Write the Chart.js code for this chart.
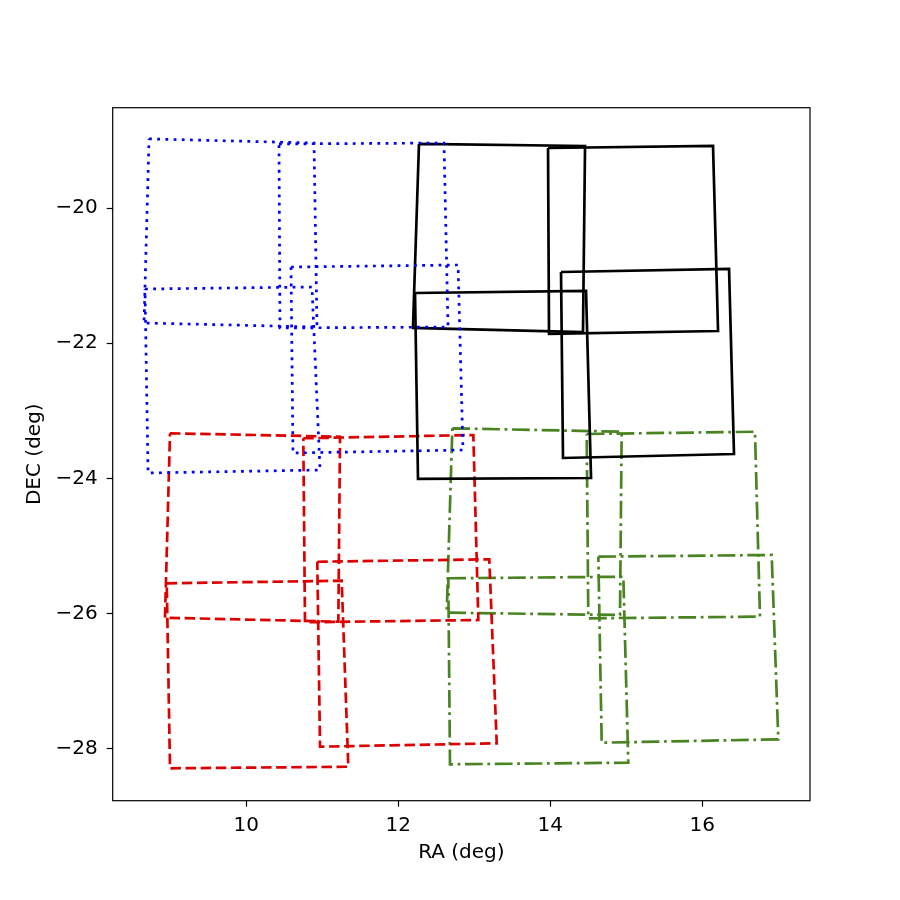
<!DOCTYPE html>
<html>
<head>
<meta charset="utf-8">
<title>Pointings</title>
<script src="https://cdn.jsdelivr.net/npm/chart.js@4/dist/chart.umd.min.js"></script>
<style>
  html, body { margin: 0; padding: 0; background: #fff; }
  #wrap { width: 900px; height: 900px; }
</style>
</head>
<body>
<div id="wrap"><canvas id="footprints" width="900" height="900"></canvas></div>
<script>
// corners of each footprint (RA, DEC in deg)
// each inner list = 4 corners, in order TL, TR, BR, BL
var blueRa = [
  [8.720, 10.891, 10.930, 8.654],
  [10.430, 12.601, 12.654, 10.443],
  [8.667, 10.864, 10.970, 8.707],
  [10.588, 12.786, 12.851, 10.614]
];
var blueDec = [
  [-18.972, -19.033, -21.759, -21.699],
  [-19.047, -19.033, -21.759, -21.773],
  [-21.196, -21.166, -23.877, -23.921],
  [-20.870, -20.840, -23.581, -23.625]
];

var blackRa = [
  [12.272, 14.457, 14.430, 12.193],
  [13.970, 16.141, 16.207, 13.983],
  [12.220, 14.470, 14.536, 12.259],
  [14.141, 16.352, 16.417, 14.167]
];
var blackDec = [
  [-19.047, -19.077, -21.833, -21.773],
  [-19.107, -19.077, -21.818, -21.862],
  [-21.255, -21.225, -23.996, -24.010],
  [-20.944, -20.899, -23.640, -23.699]
];

var redRa = [
  [8.996, 11.233, 11.211, 8.930],
  [10.750, 12.987, 13.053, 10.772],
  [8.953, 11.255, 11.342, 8.996],
  [10.934, 13.197, 13.295, 10.970]
];
var redDec = [
  [-23.333, -23.384, -26.124, -26.065],
  [-23.407, -23.359, -26.099, -26.133],
  [-25.556, -25.517, -28.273, -28.296],
  [-25.236, -25.200, -27.926, -27.976]
];

var greenRa = [
  [12.711, 14.939, 14.917, 12.637],
  [14.479, 16.693, 16.759, 14.500],
  [12.658, 14.961, 15.026, 12.680],
  [14.632, 16.913, 17.000, 14.676]
];
var greenDec = [
  [-23.259, -23.310, -26.025, -25.991],
  [-23.344, -23.310, -26.050, -26.074],
  [-25.481, -25.458, -28.213, -28.237],
  [-25.161, -25.136, -27.867, -27.917]
];

var xTicks = [10, 12, 14, 16];
var yTicks = [-28, -26, -24, -22, -20];

var FONT = { family: 'DejaVu Sans', size: 20 };

// turn corner lists into closed polygons
function makeSets(raList, decList, color, dash, lw) {
  var out = [];
  for (var i = 0; i < raList.length; i++) {
    var pts = [];
    for (var k = 0; k <= 4; k++) {
      pts.push({ x: raList[i][k % 4], y: decList[i][k % 4] });
    }
    out.push({
      data: pts,
      showLine: true,
      borderColor: color,
      borderWidth: lw,
      borderDash: dash,
      borderCapStyle: 'butt',
      borderJoinStyle: 'miter',
      pointRadius: 0,
      pointHoverRadius: 0,
      tension: 0,
      fill: false
    });
  }
  return out;
}

var datasets = []
  .concat(makeSets(blueRa, blueDec, '#0000ff', [2.8, 5.4], 2.7))
  .concat(makeSets(blackRa, blackDec, '#000000', [], 2.7))
  .concat(makeSets(redRa, redDec, '#dd0000', [10.5, 4.6], 2.7))
  .concat(makeSets(greenRa, greenDec, '#4a8422', [17.8, 4.6, 2.8, 4.6], 2.7));

function fmt(v) {
  return v < 0 ? '\u2212' + Math.abs(v) : String(v);
}

// box around the plot area, like the axes frame
var frame = {
  id: 'frame',
  afterDatasetsDraw: function (chart) {
    var a = chart.chartArea;
    var ctx = chart.ctx;
    ctx.save();
    ctx.strokeStyle = '#000';
    ctx.lineWidth = 1.2;
    ctx.setLineDash([]);
    ctx.strokeRect(a.left, a.top, a.right - a.left, a.bottom - a.top);
    ctx.restore();
  }
};

new Chart(document.getElementById('footprints'), {
  type: 'scatter',
  data: { datasets: datasets },
  options: {
    responsive: false,
    devicePixelRatio: 1,
    animation: false,
    layout: { padding: { top: 107.7, right: 90, left: 0, bottom: 0 } },
    plugins: {
      legend: { display: false },
      tooltip: { enabled: false }
    },
    scales: {
      x: {
        type: 'linear',
        min: 8.242,
        max: 17.417,
        afterBuildTicks: function (s) {
          s.ticks = xTicks.map(function (v) { return { value: v }; });
        },
        afterFit: function (s) { s.height = 99.3; },
        border: { display: false },
        grid: {
          drawOnChartArea: false,
          tickLength: 6,
          tickWidth: 1.2,
          tickColor: '#000'
        },
        ticks: {
          color: '#000',
          font: FONT,
          padding: 7,
          maxRotation: 0,
          callback: function (v) { return fmt(v); }
        },
        title: {
          display: true,
          text: 'RA (deg)',
          color: '#000',
          font: FONT,
          padding: { top: 0, bottom: 35 }
        }
      },
      y: {
        type: 'linear',
        min: -28.776,
        max: -18.51,
        afterBuildTicks: function (s) {
          s.ticks = yTicks.map(function (v) { return { value: v }; });
        },
        afterFit: function (s) { s.width = 112.7; },
        border: { display: false },
        grid: {
          drawOnChartArea: false,
          tickLength: 6,
          tickWidth: 1.2,
          tickColor: '#000'
        },
        ticks: {
          color: '#000',
          font: FONT,
          padding: 9,
          callback: function (v) { return fmt(v); }
        },
        title: {
          display: true,
          text: 'DEC (deg)',
          color: '#000',
          font: FONT,
          padding: { top: 23, bottom: 0 }
        }
      }
    }
  },
  plugins: [frame]
});
</script>
</body>
</html>
